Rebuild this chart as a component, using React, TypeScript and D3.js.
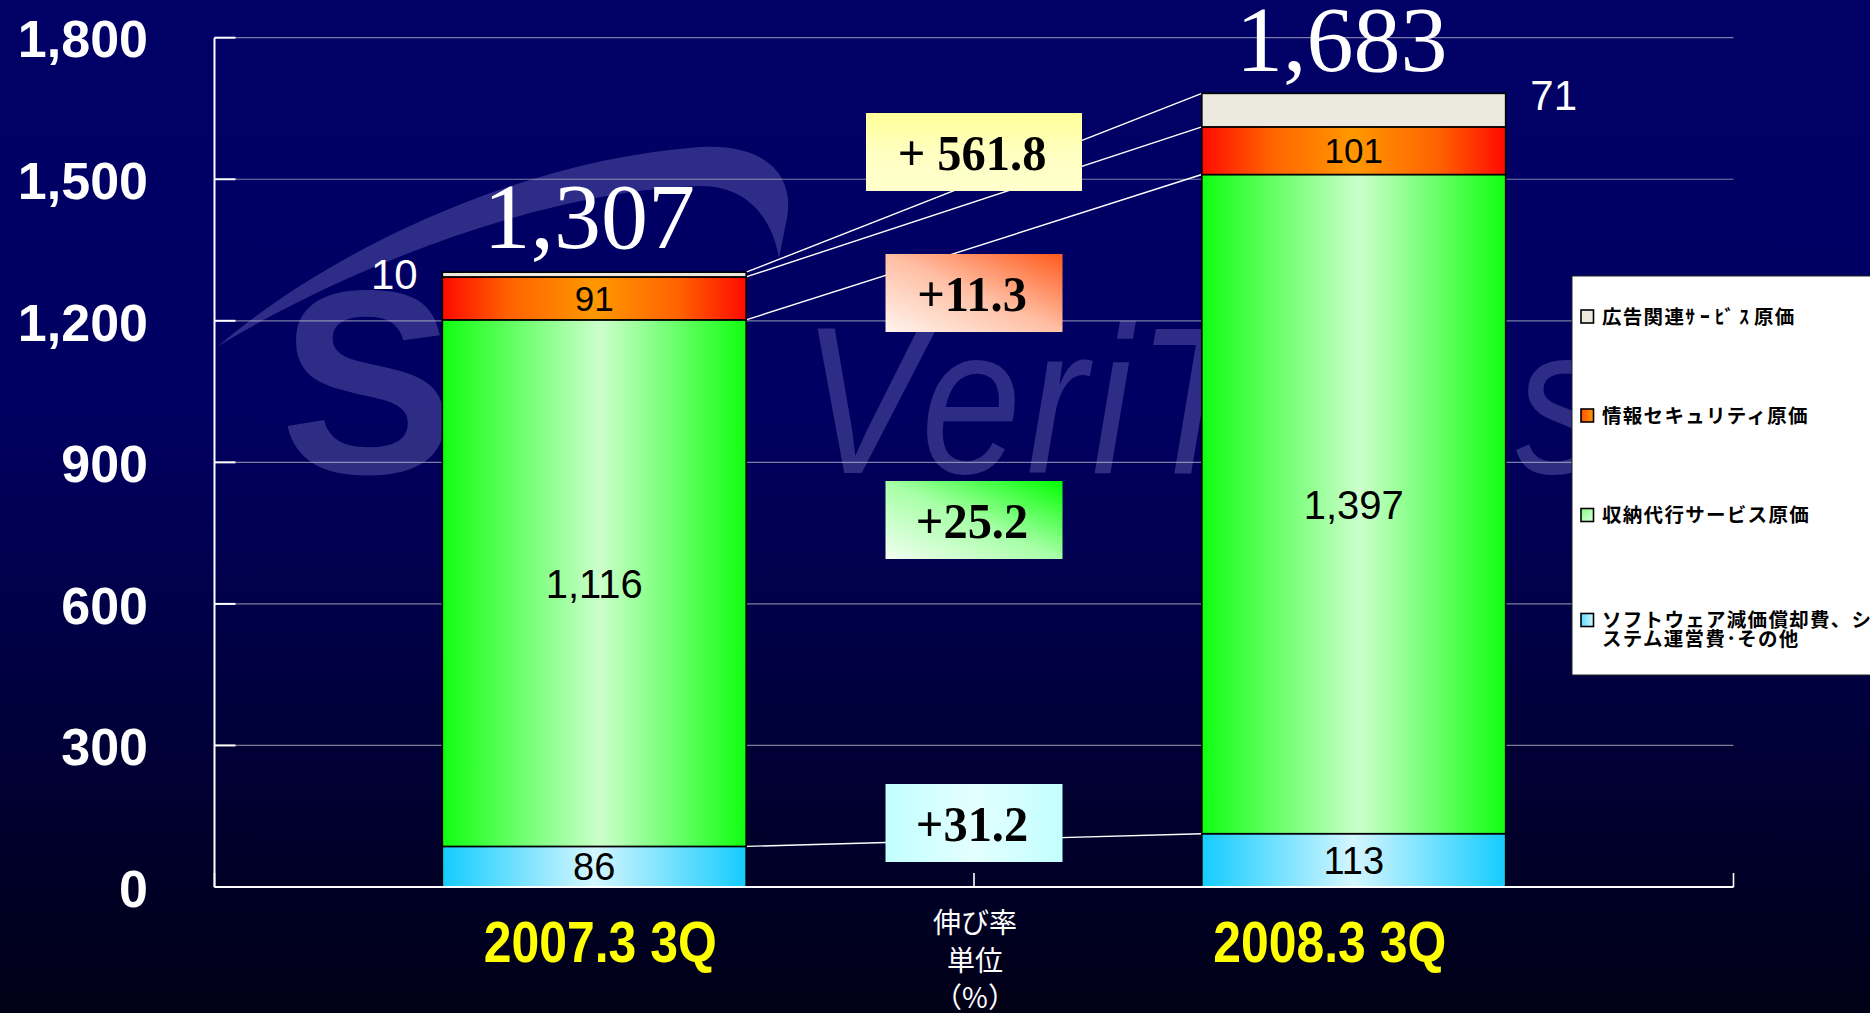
import React from "react";
import * as d3 from "d3";

// ---------- data ----------
const categories = ["2007.3 3Q", "2008.3 3Q"];
const seriesKeys = ["software", "collection", "security", "ad"];
const seriesNames = [
  "ソフトウェア減価償却費、システム運営費･その他",
  "収納代行サービス原価",
  "情報セキュリティ原価",
  "広告関連ｻｰﾋﾞｽ原価",
];
const softwareCost = [86, 113];
const collectionCost = [1116, 1397];
const securityCost = [91, 101];
const adCost = [10, 71];
const totals = [1307, 1683];
const growthRates = ["+31.2", "+25.2", "+11.3", "+ 561.8"];
const yTicks = [0, 300, 600, 900, 1200, 1500, 1800];
const centerNote = ["伸び率", "単位", "（%）"];

const W = 1870;
const H = 1013;

const SANS = "'Liberation Sans', Arial, sans-serif";
const SERIF = "'Liberation Serif', 'Times New Roman', serif";
const CJK = "'Noto Sans CJK JP', 'Noto Sans CJK SC', sans-serif";

export default function App() {
  const rows = categories.map((c, i) => ({
    cat: c,
    software: softwareCost[i],
    collection: collectionCost[i],
    security: securityCost[i],
    ad: adCost[i],
  }));
  const stacked = d3.stack<any>().keys(seriesKeys)(rows);

  const plotLeft = 214.5;
  const plotRight = 1733.5;
  const x = d3
    .scaleBand<string>()
    .domain(categories)
    .range([plotLeft, plotRight])
    .paddingInner(0.6)
    .paddingOuter(0.3);
  const y = d3.scaleLinear().domain([0, 1800]).range([887, 37.7]);
  const bw = x.bandwidth();
  const fmt = d3.format(",");

  const fills = ["url(#gCyan)", "url(#gGreen)", "url(#gRed)", "#ECE9DF"];
  const legendFills = ["url(#lCyan)", "url(#lGreen)", "url(#lRed)", "#ECE9DF"];
  const boxFills = ["url(#bCyan)", "url(#bGreen)", "url(#bRed)", "url(#bYellow)"];
  const labelSizes = [38, 40, 35, 42];

  const x0 = x(categories[0])! + bw;
  const x1 = x(categories[1])!;
  const boxCx = (x0 + x1) / 2;
  const boxW = [177, 177, 177, 216];
  const boxCy = [823, 520, 293, 152];
  const boxH = 78;

  const midTick = (plotLeft + plotRight) / 2;

  const legendX = 1572;
  const legendY = 276;
  const legendRows = [
    { i: 3, cy: 316.5 },
    { i: 2, cy: 415.5 },
    { i: 1, cy: 515 },
    { i: 0, cy: 620 },
  ];

  const totalDx = [-5, -12];
  const catDx = [6, -24];

  const legendText = (i: number, cy: number) => {
    const common = {
      x: 1602,
      fontFamily: CJK,
      fontWeight: "bold" as const,
      fontSize: 19.5,
      letterSpacing: 1.3,
      fill: "#000",
    };
    if (i === 3) {
      return (
        <text {...common} y={cy + 7}>
          広告関連
          <tspan letterSpacing={5}>ｻｰﾋﾞｽ</tspan>
          原価
        </text>
      );
    }
    if (i === 0) {
      return (
        <g>
          <text {...common} y={cy + 7}>
            ソフトウェア減価償却費、シ
          </text>
          <text {...common} y={cy + 26}>
            ステム運営費･その他
          </text>
        </g>
      );
    }
    return (
      <text {...common} y={cy + 7}>
        {seriesNames[i]}
      </text>
    );
  };

  return (
    <svg
      width={W}
      height={H}
      viewBox={`0 0 ${W} ${H}`}
      style={{ position: "absolute", left: 0, top: 0, display: "block" }}
    >
      <defs>
        <linearGradient id="bg" x1="0" y1="0" x2="0" y2="1">
          <stop offset="0" stopColor="#000066" />
          <stop offset="0.4" stopColor="#000062" />
          <stop offset="1" stopColor="#000016" />
        </linearGradient>
        <linearGradient id="gGreen" x1="0" y1="0" x2="1" y2="0">
          <stop offset="0" stopColor="#10ff10" />
          <stop offset="0.52" stopColor="#ccffcc" />
          <stop offset="1" stopColor="#10ff10" />
        </linearGradient>
        <linearGradient id="gRed" x1="0" y1="0" x2="1" y2="0">
          <stop offset="0" stopColor="#ff0a00" />
          <stop offset="0.22" stopColor="#ff6200" />
          <stop offset="0.5" stopColor="#ff9800" />
          <stop offset="0.78" stopColor="#ff6200" />
          <stop offset="1" stopColor="#ff0a00" />
        </linearGradient>
        <linearGradient id="gCyan" x1="0" y1="0" x2="1" y2="0">
          <stop offset="0" stopColor="#14ccff" />
          <stop offset="0.5" stopColor="#d4f6ff" />
          <stop offset="1" stopColor="#14ccff" />
        </linearGradient>
        <linearGradient id="lGreen" x1="0" y1="0" x2="1" y2="1">
          <stop offset="0" stopColor="#80ff80" />
          <stop offset="1" stopColor="#e0ffe0" />
        </linearGradient>
        <linearGradient id="lRed" x1="0" y1="0" x2="1" y2="0">
          <stop offset="0" stopColor="#ff5000" />
          <stop offset="1" stopColor="#ff9a00" />
        </linearGradient>
        <linearGradient id="lCyan" x1="0" y1="0" x2="1" y2="0">
          <stop offset="0" stopColor="#60dcff" />
          <stop offset="1" stopColor="#d0f6ff" />
        </linearGradient>
        <linearGradient id="bYellow" x1="0" y1="0" x2="0" y2="1">
          <stop offset="0" stopColor="#ffff99" />
          <stop offset="0.55" stopColor="#ffffc4" />
          <stop offset="1" stopColor="#ffffcc" />
        </linearGradient>
        <linearGradient id="bRed" x1="0" y1="1" x2="1" y2="0">
          <stop offset="0" stopColor="#fff4ee" />
          <stop offset="0.5" stopColor="#ffbfa4" />
          <stop offset="1" stopColor="#ff5a1c" />
        </linearGradient>
        <linearGradient id="bGreen" x1="0" y1="1" x2="1" y2="0">
          <stop offset="0" stopColor="#f2fff2" />
          <stop offset="0.5" stopColor="#a6ffa6" />
          <stop offset="1" stopColor="#00ff00" />
        </linearGradient>
        <linearGradient id="bCyan" x1="0" y1="0" x2="1" y2="0">
          <stop offset="0" stopColor="#c2ffff" />
          <stop offset="0.5" stopColor="#e4ffff" />
          <stop offset="1" stopColor="#c2ffff" />
        </linearGradient>
      </defs>

      {/* background */}
      <rect x={0} y={0} width={W} height={H} fill="url(#bg)" />

      {/* watermark logo */}
      <g fill="rgba(140,140,215,0.32)">
        <path d="M217,347 C330,250 520,160 700,147 C765,143 795,175 787,218 L779,258 C772,218 748,186 700,186 C545,190 345,268 217,347 Z" />
        <text x={280} y={473} fontFamily={SANS} fontWeight="bold" fontSize={262}>
          S
        </text>
        <text
          transform="translate(802,473) scale(0.86,1)"
          fontFamily={SANS}
          fontStyle="italic"
          fontSize={210}
          letterSpacing={6}
        >
          VeriTrans
        </text>
      </g>

      {/* gridlines */}
      {yTicks.map((t) => (
        <line
          key={"g" + t}
          x1={plotLeft}
          x2={plotRight}
          y1={y(t)}
          y2={y(t)}
          stroke="rgba(200,200,210,0.62)"
          strokeWidth={1.2}
        />
      ))}

      {/* series connector lines */}
      {stacked.map((s, si) => (
        <line
          key={"c" + si}
          x1={x0}
          y1={y(s[0][1])}
          x2={x1}
          y2={y(s[1][1])}
          stroke="#ffffff"
          strokeWidth={1.4}
        />
      ))}

      {/* bars */}
      {stacked.map((s, si) =>
        s.map((d, ci) => (
          <rect
            key={`b${si}-${ci}`}
            x={x(categories[ci])}
            y={y(d[1])}
            width={bw}
            height={y(d[0]) - y(d[1])}
            fill={fills[si]}
            stroke="#000"
            strokeWidth={1.6}
          />
        ))
      )}

      {/* inside labels */}
      {stacked.slice(0, 3).map((s, si) =>
        s.map((d, ci) => (
          <text
            key={`l${si}-${ci}`}
            x={x(categories[ci])! + bw / 2}
            y={(y(d[0]) + y(d[1])) / 2}
            dy="0.36em"
            textAnchor="middle"
            fontFamily={SANS}
            fontSize={labelSizes[si]}
            fill="#000"
          >
            {fmt(d[1] - d[0])}
          </text>
        ))
      )}

      {/* small outside labels for ad series */}
      {stacked[3].map((d, ci) => (
        <text
          key={"ad" + ci}
          x={ci === 0 ? x(categories[ci])! - 48 : x(categories[ci])! + bw + 48}
          y={y(d[1]) + 17}
          textAnchor="middle"
          fontFamily={SANS}
          fontSize={42}
          fill="#fff"
        >
          {fmt(d[1] - d[0])}
        </text>
      ))}

      {/* totals */}
      {totals.map((t, ci) => (
        <text
          key={"t" + ci}
          x={x(categories[ci])! + bw / 2 + totalDx[ci]}
          y={y(t) - 22}
          textAnchor="middle"
          fontFamily={SERIF}
          fontSize={94}
          fill="#fff"
        >
          {fmt(t)}
        </text>
      ))}

      {/* axes */}
      <line x1={plotLeft} x2={plotLeft} y1={y(1800)} y2={y(0)} stroke="#fff" strokeWidth={2} />
      {yTicks.map((t) => (
        <line
          key={"tk" + t}
          x1={plotLeft}
          x2={plotLeft + 21}
          y1={y(t)}
          y2={y(t)}
          stroke="#fff"
          strokeWidth={2}
        />
      ))}
      <line x1={plotLeft} x2={plotRight} y1={y(0)} y2={y(0)} stroke="#fff" strokeWidth={2} />
      {[plotLeft, midTick, plotRight].map((tx, i) => (
        <line key={"ct" + i} x1={tx} x2={tx} y1={y(0) - 14} y2={y(0)} stroke="#fff" strokeWidth={1.6} />
      ))}

      {/* y tick labels */}
      {yTicks.map((t) => (
        <text
          key={"yl" + t}
          x={148}
          y={y(t)}
          dy="0.38em"
          textAnchor="end"
          fontFamily={SANS}
          fontWeight="bold"
          fontSize={52}
          fill="#fff"
        >
          {fmt(t)}
        </text>
      ))}

      {/* category labels */}
      {categories.map((c, ci) => (
        <text
          key={"cat" + ci}
          transform={`translate(${x(c)! + bw / 2 + catDx[ci]},962) scale(0.86,1)`}
          textAnchor="middle"
          fontFamily={SANS}
          fontWeight="bold"
          fontSize={58}
          fill="#ffff00"
        >
          {c}
        </text>
      ))}

      {/* center note */}
      {centerNote.map((s, i) => (
        <text
          key={"n" + i}
          x={midTick + 1}
          y={933 + i * 37.5}
          textAnchor="middle"
          fontFamily={CJK}
          fontSize={28}
          fill="#fff"
        >
          {s}
        </text>
      ))}

      {/* growth boxes */}
      {growthRates.map((g, si) => (
        <g key={"gb" + si}>
          <rect
            x={boxCx - boxW[si] / 2}
            y={boxCy[si] - boxH / 2}
            width={boxW[si]}
            height={boxH}
            fill={boxFills[si]}
          />
          <text
            transform={`translate(${boxCx - 2},${boxCy[si] + 18}) scale(0.95,1)`}
            textAnchor="middle"
            fontFamily={SERIF}
            fontWeight="bold"
            fontSize={51}
            fill="#000"
          >
            {g}
          </text>
        </g>
      ))}

      {/* legend */}
      <rect x={legendX} y={legendY} width={320} height={399} fill="#fff" stroke="#222" strokeWidth={1} />
      {legendRows.map((r) => (
        <g key={"lg" + r.i}>
          <rect
            x={1581}
            y={r.cy - 6.5}
            width={12.5}
            height={13}
            fill={legendFills[r.i]}
            stroke="#000"
            strokeWidth={1.6}
          />
          {legendText(r.i, r.cy)}
        </g>
      ))}
    </svg>
  );
}
